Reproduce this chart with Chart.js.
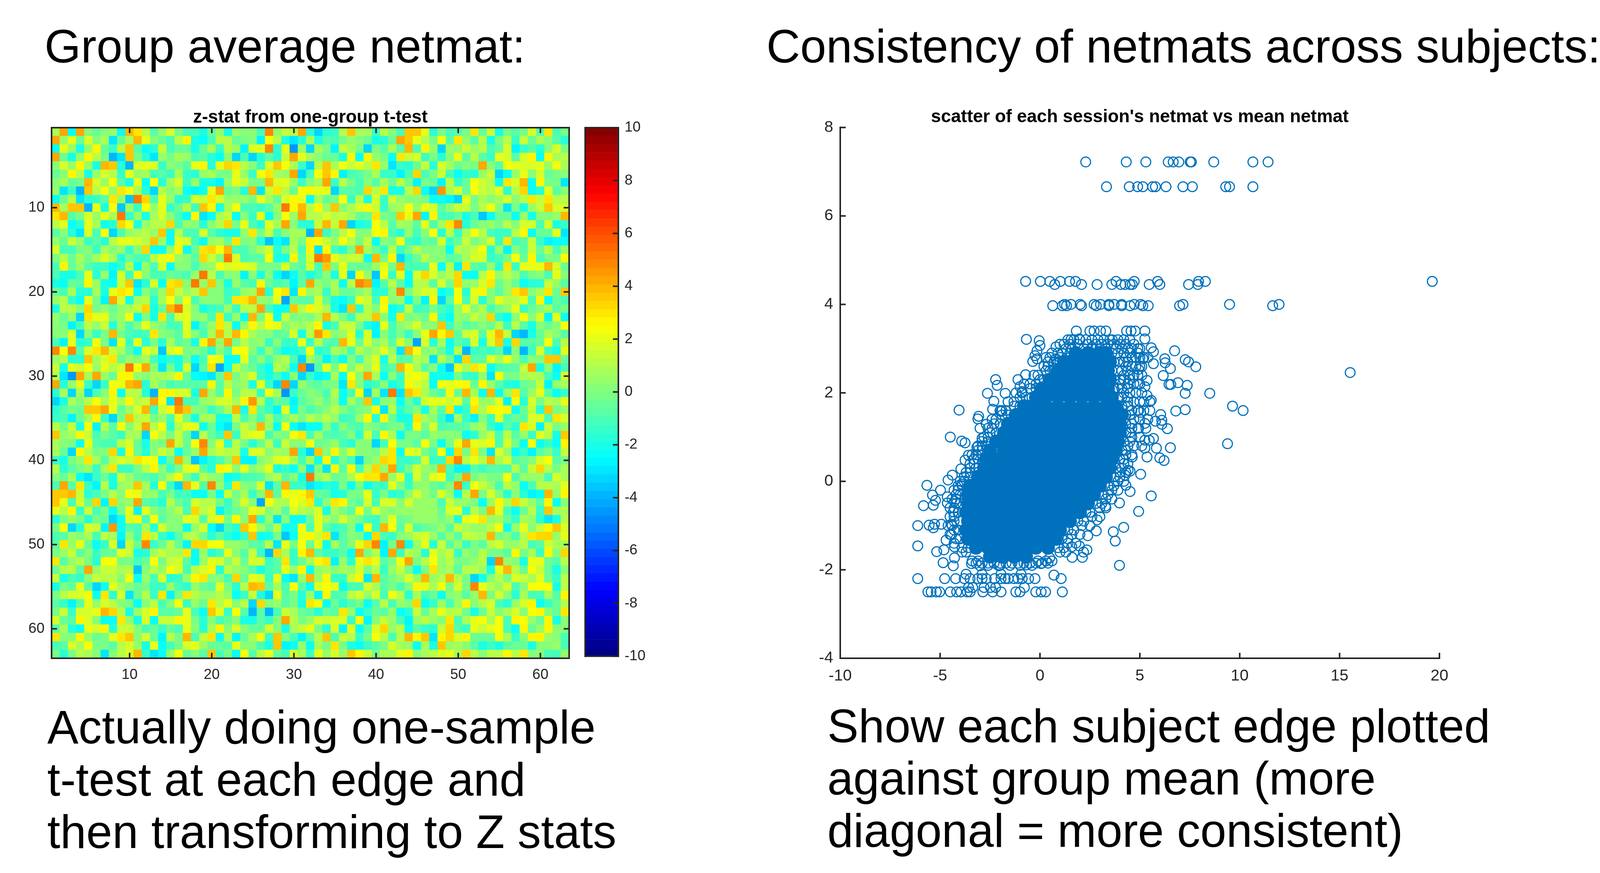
<!DOCTYPE html>
<html>
<head>
<meta charset="utf-8">
<script src="https://cdn.jsdelivr.net/npm/chart.js@4"></script>
<style>
html, body { margin: 0; background: #fff; }
body { position: relative; width: 4108px; height: 2236px; overflow: hidden; font-family: "Liberation Sans", sans-serif; color: #000; }
canvas { position: absolute; }
.big { position: absolute; font-size: 119.7px; line-height: 134px; white-space: pre; }
</style>
</head>
<body>
<div class="big" style="left:114px;top:52px">Group average netmat:</div>
<div class="big" style="left:1962px;top:52px">Consistency of netmats across subjects:</div>
<canvas id="heat"></canvas>
<canvas id="bar"></canvas>
<canvas id="scatter"></canvas>
<div class="big" style="left:121px;top:1796px">Actually doing one-sample
t-test at each edge and
then transforming to Z stats</div>
<div class="big" style="left:2118px;top:1793px">Show each subject edge plotted
against group mean (more
diagonal = more consistent)</div>
<script>
// netmat is symmetric, so only the upper triangle is kept (rows start on the diagonal)
const upperA = [ // rows 1-24, up to col 24
[.7,4.2,-2.5,4.2,.3,-.5,.2,.6,-2.5,3.8,3,1,-.8,.5,1.6,-.2,-1.2,-1.2,-2,-.5,.5,-2,.4,.2],
[.5,2,-.5,1.6,.1,.7,-3,-.5,.8,3.8,1.9,.2,-.5,-1,1.2,2.5,-2.1,-2.2,-1.2,1.2,1,-.5,-.1],
[.5,-2,.4,2.5,-.6,-1.5,1.2,3.6,-.8,-2.5,-1.8,1.3,-1,-.5,-.5,-2.1,-.5,.7,-1.5,1.2,.5,-2.7],
[.5,2.5,1,-.2,-4,-3,3.6,-.1,-1.7,-3,.5,-.3,.9,.6,-1,-.8,-1.7,-2.5,.2,-3.3,-1.1],
[.4,-2.1,3.9,3.7,-1.8,-4,1.7,2.1,1.6,-1.4,0,-.2,-.7,1.9,2.5,-1.8,1.9,3.3,3,1],
[.4,1.7,1.1,-1.3,2.1,.6,.9,-1,-.7,-1.4,.7,-1.4,-1.7,.4,.7,-.1,-.1,1.9,.5],
[.5,2.2,-.7,-2,1.9,-2.2,2.2,-1.7,.7,1.7,-1.5,.5,-2.1,-2.1,-2.6,.5,2.1,1.4],
[.5,3.1,2.2,.7,-1.8,-3.2,1,.1,.9,-2.5,-2.8,-2.2,2,4.1,-.5,-.2,-1.8],
[.5,-3.7,5,3.4,-1,2.1,.5,-1.6,-1.4,1.7,1.4,3,1.8,.5,.5,.5],
[.4,-1.3,2.2,.6,1.9,-1.4,-.5,1.2,-1.3,3.5,2.5,-2.1,.9,2.2,-1.2],
[.5,-2.1,.9,1.6,.2,-1.1,-2.2,2.5,-3,-2.5,.8,1.4,-2.2,.2],
[.4,1.1,1.1,3.2,-1.2,.4,.1,-1.7,.2,1,3.4,-.3,2],
[.4,3.5,-2.3,1,-1.2,-1,1.7,-.8,-1.7,-2,-2,.6],
[.5,-2.5,1.9,1.8,-1.2,-2.5,.5,.8,-.5,3,-.1],
[.4,2.5,-2.2,-.4,3,3.2,2.2,4,-1.2,-1],
[.5,.2,-.9,3.4,1.4,.2,5,1.7,-1.1],
[.3,-1.1,.1,.6,2.2,1.6,2.1,1.9],
[.4,5,1.1,-1,.1,.1,-2.7],
[.4,3.5,.2,-2,.6,-.9],
[.3,.3,-1.4,-1,.5],
[.3,-1.2,3,3],
[.6,-1.5,1.2],
[.5,-2.2],
[.5],
];
const upperB = [ // rows 1-24, cols 25-48
[.1,-1.2,4.8,.5,1.3,1.1,4.2,-1.8,-3.2,-1.8,-1.4,1,3.6,.8,.9,-1.4,1.2,.1,-1,3.7,3.7,2.1,-1.7,-.1],
[0,-2.7,2.2,1.2,-2,-3,-1.6,.8,-2,-.8,-1,-.1,.4,.2,-.6,-2,-1.8,-.4,4.1,3.7,1.9,1,-.1,2.2],
[1.6,1.9,4.8,-1.7,2,-4.5,.4,-3.2,.9,-.3,-2.6,1.3,.8,-.1,-3.3,-.1,-.9,.9,-.7,3.9,-1.1,2.5,.5,-3.3],
[-3.2,-1.7,-.9,-1.7,1.5,4.3,1.9,.9,.1,-.4,-.4,-2,2.5,-2.5,2.5,.5,-.3,-2.5,3,1.4,1.8,-1.5,-.1,-1.8],
[0,-1.5,1.7,3.6,2.2,.9,-1.4,-3.3,1.2,3.6,.7,2.2,1.3,1.9,1.1,2.9,.6,-2.9,-1.3,-1.7,-.4,1.5,-1.7,1.8],
[-1.4,2.2,3,.9,.4,4.1,-3.3,-1,2.2,3.5,2.5,-2.7,-1.2,-.7,-.1,.7,-1.4,-1.4,-2.7,-1,3.2,-1,-.2,1.5],
[-.2,-.2,3.9,1.8,2,.4,-1.5,.2,.9,4.1,-1.5,1,-.2,-1.1,.2,-.7,.8,-.4,1.2,-.1,-2.7,-.2,-.4,-2.6],
[3.8,-2.9,1.4,3,1.1,-.4,2.2,2.6,1.9,1.9,-3.3,-.8,-.7,-1,3.2,1,3,-2.1,-2.1,1,3.2,-2.5,-3.4,4.4],
[-.2,2.1,.9,-.4,1.7,2.5,1.9,-2.5,.7,-.5,-.1,2.2,-1.3,1.1,-2.1,1.6,-1.3,1.5,.5,.2,.2,-.1,-2.5,-2.5],
[-1,-1.5,-.7,.5,5,2.8,3.8,1.1,2.5,.5,3.5,.2,.8,1.7,2.5,1.3,-1.4,.4,.9,2.2,.4,2.1,1.6,-.9],
[-1.5,2.1,-2.5,0,2.2,.4,4.2,1.1,1.1,1.6,1.1,1.5,.8,-.5,-.6,2.9,-.3,-.5,3.6,2.1,4.3,-2.8,2.5,-1.2],
[-1.1,-1.6,1.9,.7,4.2,0,-1.8,-1.8,1.3,3.8,1.3,4.3,-3.3,-2.1,-1.6,2.2,1,-.9,.7,.5,-.8,1.9,-1,.8],
[3.1,-.2,1.5,-1.1,.1,.9,.9,-4,4.1,-1.5,-.1,1,2.2,.2,0,2.2,2.5,-1.2,-1.6,.4,-1.2,.1,2.2,-1.8],
[.3,-1.8,-3.7,-2.2,-2.9,.8,-.3,2.5,2.2,1.3,.4,2.2,1.1,-.1,1.4,-2.5,0,-.2,2.2,-1.2,-1.8,-.5,-.7,1.7],
[-.1,.7,1.7,-1.7,-.2,1.2,-1.2,2.5,-3,2.5,-1.2,-1.6,-.2,4.2,.7,-.5,-1.4,1.2,-1.5,-.3,1,.3,.3,.1],
[-.8,-.8,2.2,-1.9,-1.9,2.5,-.8,1.6,5,4.6,1.9,1.1,1.3,1.3,-2.5,4,-.3,2.5,-3.3,-1.4,-.4,1,.2,.1],
[1.6,-.1,-.1,-.1,1.7,-.6,-.8,1.6,-1.2,3.7,-.1,2.1,-.6,-.6,-.6,.5,1.9,-.2,3.8,-1,-1,-1.2,2,-2.5],
[.1,-2.1,0,-2.5,-3.2,-2.5,-.8,-2.1,-1.2,.3,-2.1,1.9,-3.2,2.2,.6,-3.5,2.2,-1.3,1.9,-2.3,1.7,3.4,1.8,.6],
[-1.1,2.5,-.4,-1.2,-.7,-2.8,-.8,4.2,.5,-.3,.9,-2.5,1.2,4.8,4.3,-2.7,-.8,1.2,-.9,-2.3,1.2,1.2,-.7,1.6],
[.9,4.3,-1.7,2.2,2.9,-2.9,2.5,.4,.8,-1.5,.8,-.6,-.6,.1,.7,-1.8,-1.7,.4,4.7,-.3,1.2,1.6,1.6,-2.4],
[3.9,.6,.1,1.9,-4.2,-.6,-.7,-.8,1.8,-.6,-1.9,-2.3,-1.4,1.9,1.4,-1.2,2.5,.1,.4,-2.2,-.2,-2.6,2.5,-3.3],
[1.2,4.1,-1,-2.2,-2.5,3.6,1.2,2.5,1.7,.8,-1.9,-3.1,3.6,-1.8,1,.1,2.2,-2.2,-1.6,1.3,-1.5,-1.2,-.2,-1.2],
[4,-.2,2.2,-2.2,1.3,-.3,.3,-.1,.8,3.8,1.2,-.1,-1.5,1,1,3.7,.1,-2,2.9,-.2,.1,-.4,2.5,-1.7],
[2.5,1,2.2,1.9,.2,.9,.6,1.1,2.6,-2.1,-1.2,1.5,1.3,-.2,-2.1,-2.7,1.9,-1.2,.1,.9,1.6,.2,.2,3.6],
];
const upperC = [ // rows 1-24, cols 49-63
[-1,-.7,-.1,3,-.6,1.3,-2.1,-.1,-.7,-.1,1.7,-.7,3.1,-1.1,-.1],
[-.8,3,.5,-.9,1,-2.1,-.1,1,-1.3,1.5,-.4,.8,0,-.8,-1.6],
[.4,.6,1.4,.6,1,-1.2,-.5,1.7,-2.8,-1.4,-.9,-1.7,.1,1.7,-.1],
[.2,2,-.7,1.2,-.8,-1.3,2,1.8,-.7,1.7,2.5,-2.5,2.5,.7,1],
[.9,-.4,.3,-.1,4.2,.2,-.8,2.3,2,1.8,1.7,2.1,.6,2.3,.7],
[-1.1,-2.5,-1.5,-1.7,.6,1.5,-3.3,-2.2,.6,2,.2,1.6,-.5,-.1,0],
[1.2,-1.3,-.4,2.2,1.3,1.2,-2.5,3,1.7,3.8,-2.5,2.5,-.1,-.1,-2.9],
[.8,1.8,-.6,2.2,1.4,1.2,2,-1.7,1,3.3,-2.5,-1.8,2,-.7,.1],
[-2.7,-3.4,2.1,-.1,.7,.3,.7,1.7,.1,1.1,2.9,1.4,3.1,1.1,1.2],
[.5,1.4,1.4,-.1,1.1,2.2,.2,-2.9,-.2,-2.1,.4,1.5,3.6,1.7,1.6],
[-1.1,-.5,-1.9,-1,-3.7,-2.2,-.4,-.4,-2.3,.6,-2.1,0,0,.4,3.8],
[2.9,4.7,-1.6,-.5,.3,.5,-.1,1,.1,1.7,1.7,-1.1,1.7,-2.1,-1.5],
[1,-1.4,.8,2.2,1,-1.2,-1.5,-1.5,1.1,2.5,-2.5,-.4,-.4,1.9,-3],
[-1.5,-.5,1.3,-.2,.5,1.7,-1.5,3,-1.2,-.9,1.3,-1.4,-2.8,-2.2,-2.2],
[-2.5,1,.9,1.5,2.2,-1.6,.4,-2.6,.1,-.8,1.3,-.5,1,-1.2,.4],
[-.8,-.6,.8,1.7,1.8,-1.3,-1.2,-.1,2.2,-.4,2.5,-1,-.2,-.1,2.2],
[1,-2.8,3,-.7,-1,.5,-1.8,3,-1.4,1.9,2.1,1.9,3.9,1.6,-.4],
[1,3.2,-2.5,-2.3,1,2.5,.4,1.1,.6,-1.2,-.1,0,-1,2.1,.3],
[-.2,3.2,.6,.4,1.8,2.9,-.6,.6,-.4,-2.5,-1.8,-1.6,1.3,.4,-.8],
[-1.8,2.3,-1.7,2,2.5,.3,-.7,.5,3,3.6,.2,.7,3,-.6,3.7],
[-.9,2.3,-1.2,1.6,-1.8,.1,2,1.2,1.2,2,-1.1,2.5,-2.5,-.5,-1.2],
[-1.7,.6,2.1,.1,1.1,-1,-.2,.6,2.1,-1.4,-.6,.3,.7,-.7,-.2],
[-2.5,.6,.2,1.4,.4,3.2,-1.8,-2.4,.2,2.2,0,1.7,-2.8,2.1,-2.2],
[-1.4,.2,-.9,-.5,.2,-.5,1,-1.4,1,-.9,-1.9,0,-.4,.3,2.2],
];
const upperD = [ // rows 25-48, up to col 48
[.7,.2,.2,-.8,-.4,1.8,-2.1,1,4.6,3,.2,.5,1.9,-1.7,1.8,-2.7,.2,-1.2,-.3,-1.5,.1,1.9,4.2,2.5],
[.4,-1.5,.2,-1.5,-1.5,2,-1.3,1,-.9,-1.1,3.9,2.1,-.5,1.7,.1,.8,-.8,1.7,.1,-4.2,1.8,-1.7,.8],
[.6,-1,-2.5,-2.1,-1.4,2.2,-1.8,-1.5,.7,.5,-1,1,.2,.7,2,.6,-3,3.9,2.2,.3,.5,-.5],
[.6,1.1,-1.1,-3.3,.9,-.5,-2.7,-1.2,-2.2,.2,-1.3,.7,1.6,-2.1,1,-.7,-.9,1.2,.8,-3,1.1],
[.4,-2.5,4.9,-4.6,-.9,2,-.1,2.2,-.1,1.3,.5,2.1,-1.4,-.9,4,2.5,.8,-.8,.2,-2.5],
[.3,-3.2,-1.4,-2.7,-2.2,.8,-2.5,2.2,.2,4.2,.8,-2.2,.1,-1.5,1.9,2.2,1.7,-2.2,-2],
[.5,-.5,-.8,-.2,-.2,-3,2.9,0,-1.7,-1.2,0,-2.1,-1.5,2.5,1.7,1,-2.5,2.2],
[.2,-.2,-1.2,1,-2.2,-1.2,2.2,-3.2,.9,-3.1,5,-3.1,3.6,2.9,.8,-.6,-1.2],
[.5,-.6,.4,-2.3,.7,-.6,3.6,-2.1,.2,.6,-2.3,-.4,-1.6,1.7,2,2],
[.3,1.2,0,-.9,-.1,.3,2.5,-3.1,1.2,-1.8,-.9,0,-2.1,.8,-.8],
[.4,-1.3,-1,.4,2.5,-1.8,2.5,-.5,-1.9,-2,3,.7,.2,-1.3],
[.3,-.9,-1.1,.3,-.2,-.8,-.2,-.2,-1.8,2.5,-.2,1.6,-1],
[.2,-1.6,1.7,-1.1,2.5,.7,-2.5,-.2,-.1,-.8,.6,.3],
[.2,.1,-3.2,-1.1,2.2,-.2,-.2,-.9,2.2,-.2,-2.5],
[.3,-.2,1,2.9,-2.5,1.9,1.6,-.2,-1.2,2.2],
[.5,3.2,3,-1.5,-1.5,-1,1.6,-1.5,-1.5],
[.6,4.2,-1.4,-.2,1.7,.5,.2,3.8],
[.5,1.9,-1.7,1.7,.2,2,2.3],
[.3,-1.3,.2,.6,-.6,-.8],
[.2,1.8,.5,-.3,1.6],
[.5,.6,.6,-1],
[.5,.4,-.6],
[.4,-.2],
[.4],
];
const upperE = [ // rows 25-48, cols 49-63
[3.6,-.9,1.3,1.7,-.7,1.9,3.8,1.5,-3.2,-3.9,-2,-.4,.7,.1,-.8],
[-2.5,-.9,-1.5,1.6,-2.1,1.7,3.6,-2,3.2,-.8,-.8,-.5,2.2,-1.2,1.1],
[-2,1.1,-3.9,-1.4,-1,-1.5,-.8,-3.4,.1,-3.9,-1.5,1.8,-1.5,-2,2],
[-.3,-3.1,3.3,-.8,-.9,1.9,.9,2,.5,-1.2,.2,.1,3.7,3.7,-.4],
[-3.7,2,.7,3,2.1,-2.5,-1.2,-.8,-.9,1.3,4.2,-2.1,.2,-2.8,-1.1],
[-2.5,-.2,-1.5,-1.4,.4,-3.1,2.2,-.1,-.2,.7,1.1,.8,-1.1,-2.2,1.6],
[1.9,2.3,2.5,-.5,2.5,.6,-.8,-1.8,-2.1,-.4,-.2,1.5,-2.8,.6,.7],
[2.5,-.5,3.9,.7,-2.3,3.8,-2.2,.5,3,-.7,.5,2,-.8,-2.2,-1.3],
[1.3,2.1,-.8,2.5,.6,.6,1.9,-2.7,2.2,-1.7,1.6,-.3,1.1,.7,2],
[3,-2.5,-1.3,2.9,.9,2.5,2.2,2.5,-2.2,-.5,1.4,-1.8,3.6,-.1,.4],
[-3,.8,-1.3,-2.8,.2,-1.5,1.9,-1,-.6,-.7,1.7,1.6,-1,2.9,1.7],
[-.9,-.7,-.8,.5,.8,-1.5,-2.5,-.7,-1.6,3,1.7,-2.8,1.4,-.2,.4],
[.2,0,-2.5,-1.6,.5,1.3,-1.2,1,-.9,.4,-1.5,1.9,1,-1.9,3.5],
[-.2,2,4.2,2.1,1.7,2.5,-1.2,1.8,-.1,-2.5,2.2,-2.4,-1.3,-2.2,2.5],
[-2.4,3.2,-.1,3,-.2,-3.1,1.7,.4,-2.5,-1.5,-2.8,-.7,-.2,-1.5,1.5],
[3.2,4.8,1,2,1.2,3.8,.7,1.8,-.8,-.5,.2,1.8,2.2,-.8,-.2],
[-1.2,-2.6,-2.6,-.9,-1.3,-.8,-.8,-1.1,1,-.8,1.3,3.4,1.2,-.2,.8],
[-1.4,-.1,4.2,-.1,.6,-.1,-.3,2.3,-1.2,.5,.6,.4,-1.1,1.7,.9],
[.3,4.8,-1.3,2.2,1.5,.4,-1,1.2,.4,-2.5,-1.1,1,1.1,.8,2.1],
[.6,-2.2,1.1,4.1,-.2,1.7,0,-1.7,.3,-1.7,-2.7,-2.5,3.8,.6,2.5],
[1.5,.4,.4,-.3,-2.2,.4,2.5,.9,3.2,1.4,.4,-.7,2.5,-2.2,.2],
[1.8,2.1,-1.8,1,-.2,4,2.1,-1.2,-2.5,-.6,1,-1.3,3.7,.9,.8],
[.5,-1.6,2.1,2.4,3,.5,.8,-.6,-1.4,.7,.5,-1.8,-3,-1.9,1.2],
[-.8,1.3,.7,.6,.4,1,2.4,-2.5,.4,1.9,0,1.3,2.5,3.6,1.7],
];
const upperF = [ // rows 49-63, up to col 63
[.5,-.7,1.3,1.2,.7,4,-.1,0,-1.1,1,3,3.4,3.4,.5,2],
[.5,-1.3,-.1,-.9,1.2,1.7,.4,.4,1.2,-1.2,-.8,1.7,.9,.9],
[.6,-.1,1,-.1,-.1,-.8,2.5,-.2,.7,-1.4,2.5,.1,3.2],
[.4,1,-3.4,4.8,.5,.1,-2.1,1.9,1.9,-.4,-.8,1.1],
[.4,-2.1,2,4,1.2,-.5,2.2,1.5,-.5,-1.9,.2],
[.3,1,-.2,1.8,1.5,.7,2,-.5,-1.5,1.1],
[.5,1.7,-1,.1,2.2,2.2,2.2,-2.1,1.1],
[.1,-1.8,.9,-1.2,-1.2,.7,-.9,2.5],
[.5,1.7,2.5,-2.5,-1.5,-.5,1.2],
[.2,2.2,2.5,.1,-.6,3.1],
[.4,-.6,2.5,-2.1,0],
[.4,2.5,0,0],
[.6,.2,-1.1],
[.5,-1],
[.5],
];

const heatTicks = [10, 20, 30, 40, 50, 60];
const barTicks = [-10, -8, -6, -4, -2, 0, 2, 4, 6, 8, 10];
const scatterXTicks = [-10, -5, 0, 5, 10, 15, 20];
const scatterYTicks = [-4, -2, 0, 2, 4, 6, 8];

// rows of rings at quantised y levels: [y, x values]
const ringRows = [
[7.22,[2.29,4.32,5.3,6.42,6.67,6.95,7.52,7.58,8.7,10.66,11.42]],
[6.66,[3.33,4.47,4.89,5.15,5.64,5.78,6.31,7.16,7.63,9.3,9.49,10.66]],
[4.52,[-.72,.02,.49,1.02,1.48,1.78,3.81,4.72,5.89,7.94,8.28,19.64]],
[4.45,[.74,2.08,2.86,3.6,4.05,4.26,4.51,4.62,5.47,6,7.44,7.9]],
[4,[1.23,1.55,2.01,2.71,3.03,3.45,3.71,4.09,4.72,5.04,7.16,9.49,11.97]],
[3.97,[.64,1.12,1.33,2.08,2.82,3.45,4.09,4.51,5.15,5.42,6.99,11.65]],
[3.4,[1.82,2.5,2.71,3.03,3.3,4.34,4.56,4.77,5.25]],
[3.2,[1.4,1.7,2,2.3,2.6,2.9,3.2,3.5,3.9,4.2,4.5]],
[3.1,[1,1.2,1.5,1.9,2.4,2.8,3.1,3.4,3.7,4,4.3,4.7]],
[3,[1.3,1.6,2.2,2.6,3,3.3,3.8,4.1,4.4,4.6,4.9,5]],
[2.9,[.6,.9,1.1,1.5,1.7,1.9,3.6,3.9,4.2,4.5,4.9]],
[2.8,[.3,.5,1,4.3,4.6,4.8,5,5.2,5.4]],
[2.7,[.4,.7,.9,1,3.7,4,4.2,4.4]],
[2.6,[.2,.4,4.3,4.6,4.8,5,5.1]],
[2.5,[.3,.5,.7,3.6,3.9,4.1,4.4]],
[2.4,[-.1,-.3,4.2,4.5,4.7,4.9,5.1]],
[2.3,[0,.2,.4,3.7,4,4.2,4.5]],
[2.2,[-.5,-.8,-.2,4,4.4,4.7,4.9,5]],
[2.1,[-.5,-.2,0,3.7,3.9,4.1,4.4]],
[2,[-1.2,-.9,4.2,4.5,4.8,5.1]],
[1.9,[-1,-.7,-.4,3.9,4.1,4.4]],
[1.8,[-1.6,-1.3,4.4,4.7,5,5.2,5.5]],
[1.7,[-1.3,-1,-.7,4.1,4.4]],
[1.6,[-2,-1.7,-1.9,4.6,4.9,5.2,5.5]],
[1.5,[-1.6,-1.9,-1.3,4.3,4.5]],
[1.4,[-2.2,-2.4,4.7,5,5.4]],
[1.3,[-2,-2.3,4.3,4.6]],
[1.2,[-2.4,-2.6,4.6,4.9,5.3]],
[1.1,[-2.2,-2.5,4.3,4.5]],
[1,[-2.8,-2.6,4.6,5]],
[.9,[-2.6,-2.9,4.2,4.5]],
[.8,[-3.1,-2.9,4.4,4.7,5.1]],
[.7,[-2.9,-3.1,4.1,4.3]],
[.6,[-3.4,-3.2,4.3,4.6]],
[.5,[-3.1,-3.3,4,4.2]],
[.4,[-3.5,-3.3,4.2,4.4]],
[.3,[-3.2,-3.5,3.8,4.1]],
[.2,[-3.7,-3.5,4,4.3]],
[.1,[-3.5,-3.8,3.7,4]],
[0,[-4,-3.8,3.9,4.2]],
[-.1,[-3.9,-4.1,3.4,3.7]],
[-.2,[-4.3,-4.1,3.6,3.9]],
[-.3,[-4,-4.2,3.1,3.4]],
[-.4,[-4.4,-4.2,3.3,3.6]],
[-.5,[-4,-4.2,2.8,3.1]],
[-.6,[-4.5,-4.3,3,3.3]],
[-.7,[-4.1,2.3,2.5]],
[-.8,[-4.5,-4.3,2.6,3]],
[-.9,[-4,-4.3,1.9,2.2]],
[-1,[-4.6,-4.4,2.1,2.5]],
[-1.1,[-4.1,-4.3,1.4,1.7]],
[-1.2,[-4.5,1.6,2]],
[-1.3,[-4,-4.2,1.1,1.4]],
[-1.4,[-4.3,1.4,1.8]],
[-1.5,[-3.6,-3.9,.9,1.2]],
[-1.6,[-3.9,-3.7,1,1.3]],
[-1.8,[-3.4,-3.1,-.1,.3,.6]],
[-1.85,[-3.2,-2.9,-2.6,-2.3,-2,-1.7,-1.4,-1.1,-.8,-.5,-.2,.1,.4]],
[-1.9,[-2.6,-2,-1.5,-1,-.4]],
[-2.1,[-3.7,-2.9,-1.95,-.95]],
[-2.2,[-6.12,-4.77,-4.22,-3.79,-3.5,-3.11,-2.9,-2.69,-2.27,-1.95,-1.74,-1.59,-1.31,-1.1,-.89,-.57,-.25,1.06]],
[-2.4,[-3.58,-3.37,-2.8,-2.48,-2.22,-.78]],
[-2.5,[-5.61,-5.45,-5.19,-5.02,-4.49,-4.17,-3.96,-3.64,-3.5,-2.86,-2.37,-1.95,-1.21,-1,-.21,.06,.28,1.12]],
];
// single outlying rings
const ringX = [-.68,-.04,0,-.15,.8,1.55,1.97,3.62,5.25,5.57,5.68,6.74,6.25,7.27,7.44,7.8,6.27,6.53,5.68,6.17,6.46,6.55,6.91,7.37,7.27,8.5,15.53,-.25,-.36,-.15,-2.22,-2.14,-1.1,-.72,-2.63,-1.74,-2.31,-1,-.89,.8,5.36,5.36,5.25,5.15,5.57,4.94,
-4.05,-3.07,-3.11,-3,-2.69,-2.37,-1.95,-4.49,-3.92,-3.75,-2.9,-3.16,-3.58,-3.75,-3.33,-3.96,-4.39,-4.6,-5.66,-3.92,-4.98,-5.38,-4.64,-5.23,-5.83,-5.34,-4.64,-4.28,-4.34,-6.12,-5.55,-5.28,-5.34,-4.94,-4.43,-6.12,-5.17,-4.81,-4.7,-4.43,-4.28,-4.85,-4.34,-4.28,
9.64,10.17,6.8,7.27,6.04,6.1,6.1,6.38,5.78,5.25,4.94,4.94,5.04,5.68,5.25,5.47,6.53,5.83,5.25,9.39,5.36,6,6.21,4.62,4.51,5.04,4.41,4.26,4.3,4.51,5.57,3.98,4.94,3.28,2.86,4.19,3.67,3.77,2.82,2.39,1.97,1.59,2.35,2.18,1.61,2.12,3.98,.49,.06,-.68,-2.06,-3.43,-3,.7];
const ringY = [3.21,3.18,3.07,2.95,3.04,3.2,3.22,3.2,3.22,3.02,2.93,2.95,2.77,2.75,2.7,2.59,2.68,2.55,2.66,2.39,2.19,2.19,2.23,2.17,1.99,1.99,2.46,2.84,2.71,2.77,2.3,2.17,2.3,2.41,1.99,1.99,1.81,2.14,2.03,2.77,2.28,1.94,2.14,2.77,1.83,2.53,
1.61,1.47,1.41,1.2,1.29,1.63,1.58,1,.91,.87,.97,.77,.59,.48,.5,.28,.14,.03,-.09,-.06,-.2,-.31,-.35,-.43,-.55,-.54,-.49,-.45,-.69,-1,-.99,-.97,-1.05,-.97,-.97,-1.46,-1.59,-1.55,-1.33,-1.21,-1.48,-1.84,-1.91,-1.73,
1.7,1.6,1.59,1.62,1.51,1.38,1.29,1.19,1.36,1.31,1.2,1.6,1.56,.97,.93,.93,.76,.75,.75,.85,.55,.53,.47,.55,.23,.16,.25,.14,-.09,-.23,-.33,-.49,-.68,-.56,-.87,-1.04,-1.14,-1.35,-1.12,-1.23,-1.46,-1.48,-1.55,-1.6,-1.72,-1.72,-1.9,-1.73,-1.86,-1.89,-1.91,-1.86,-1.91,-2.12];
// the overlapped mass in the middle of the cloud, read as rows of solid marks
const coreRows = [
[-1.7,[-2.5,-1.9,-1.3,-.7]],
[-1.5,[-3.2,-2.6,-2,-1.4,-.8,-.2,.4]],
[-1.3,[-3.6,-3,-2.4,-1.8,-1.2,-.6,0,.6,.8]],
[-1.1,[-3.7,-3.1,-2.5,-1.9,-1.3,-.7,-.1,.5,1]],
[-.9,[-3.6,-3,-2.4,-1.8,-1.2,-.6,0,.6,1.2,1.5]],
[-.7,[-3.7,-3.1,-2.5,-1.9,-1.3,-.7,-.1,.5,1.1,1.7,2]],
[-.5,[-3.6,-3,-2.4,-1.8,-1.2,-.6,0,.6,1.2,1.8,2.4]],
[-.3,[-3.6,-3.1,-2.5,-1.9,-1.3,-.7,-.1,.5,1.1,1.7,2.3,2.7]],
[-.1,[-3.5,-3,-2.4,-1.8,-1.2,-.6,0,.6,1.2,1.8,2.4,3]],
[.1,[-3.1,-2.5,-1.9,-1.3,-.7,-.1,.5,1.1,1.7,2.3,2.9,3.3]],
[.3,[-2.8,-2.4,-1.8,-1.2,-.6,0,.6,1.2,1.8,2.4,3,3.5]],
[.5,[-2.7,-2.1,-1.5,-.9,-.3,.3,.9,1.5,2.1,2.7,3.3,3.6]],
[.7,[-2.5,-1.8,-1.2,-.6,0,.6,1.2,1.8,2.4,3,3.6,3.8]],
[.9,[-2.2,-1.7,-1.1,-.5,.1,.7,1.3,1.9,2.5,3.1,3.7,3.9]],
[1.1,[-1.8,-1.2,-.6,0,.6,1.2,1.8,2.4,3,3.6,4]],
[1.3,[-1.6,-1.1,-.5,.1,.7,1.3,1.9,2.5,3.1,3.7,4]],
[1.5,[-1.2,-.6,0,.6,1.2,1.8,2.4,3,3.6,4.1]],
[1.7,[-.8,-.3,.3,.9,1.5,2.1,2.7,3.3,3.8]],
[1.9,[-.2,.3,.9,1.5,2.1,2.7,3.3,3.6]],
[2,[.6,1.2,1.8,2.4,3]],
[2.1,[.1,.6,1.2,1.8,2.4,3,3.4]],
[2.3,[.5,.9,1.5,2.1,2.7,3.3,3.5]],
[2.5,[.9,1.2,1.8,2.4,3,3.4]],
[2.7,[1.2,1.5,2.1,2.7,3.3,3.5]],
[2.9,[1.8,2.4,3,3.3]],
];

const FONT = "Liberation Sans";
const INK = "#262626";
const BLUE = "#0072BD";

function clamp01(v) {
    return Math.max(0, Math.min(1, v));
}

// MATLAB jet(64), z from -10 to 10
function jet(z) {
    const level = Math.min(63, Math.floor(((z + 10) / 20) * 64));
    const t = (level + 0.5) / 64;
    const r = clamp01(Math.min(4 * t - 1.5, -4 * t + 4.5));
    const g = clamp01(Math.min(4 * t - 0.5, -4 * t + 3.5));
    const b = clamp01(Math.min(4 * t + 0.5, -4 * t + 2.5));
    return `rgb(${Math.round(r * 255)},${Math.round(g * 255)},${Math.round(b * 255)})`;
}

function buildMatrix() {
    const m = [];
    for (let r = 0; r < 63; r++) m.push(new Array(63).fill(0));
    const put = (r, c, v) => {
        m[r][c] = v;
        m[c][r] = v;
    };
    upperA.forEach((row, i) => row.forEach((v, k) => put(i, i + k, v)));
    upperB.forEach((row, i) => row.forEach((v, k) => put(i, 24 + k, v)));
    upperC.forEach((row, i) => row.forEach((v, k) => put(i, 48 + k, v)));
    upperD.forEach((row, i) => row.forEach((v, k) => put(24 + i, 24 + i + k, v)));
    upperE.forEach((row, i) => row.forEach((v, k) => put(24 + i, 48 + k, v)));
    upperF.forEach((row, i) => row.forEach((v, k) => put(48 + i, 48 + i + k, v)));
    return m;
}

function place(id, left, top, w, h) {
    const c = document.getElementById(id);
    c.width = w;
    c.height = h;
    c.style.left = left + "px";
    c.style.top = top + "px";
    c.style.width = w + "px";
    c.style.height = h + "px";
    return c;
}

// MATLAB style axes: frame lines and short inward ticks
const matlabAxes = {
    id: "matlabAxes",
    afterDraw(chart, args, opts) {
        const { ctx, chartArea: a, scales } = chart;
        const len = opts.tickLength;
        ctx.save();
        ctx.strokeStyle = INK;
        ctx.lineWidth = opts.lineWidth;
        ctx.lineCap = "square";
        const line = (x1, y1, x2, y2) => {
            ctx.beginPath();
            ctx.moveTo(x1, y1);
            ctx.lineTo(x2, y2);
            ctx.stroke();
        };
        line(a.left, a.top, a.left, a.bottom);
        line(a.left, a.bottom, a.right, a.bottom);
        if (opts.box) {
            line(a.right, a.top, a.right, a.bottom);
            line(a.left, a.top, a.right, a.top);
        }
        ctx.lineCap = "butt";
        if (opts.xTicks) {
            for (const t of scales.x.ticks) {
                const x = scales.x.getPixelForValue(t.value);
                line(x, a.bottom, x, a.bottom - len);
                if (opts.mirror) line(x, a.top, x, a.top + len);
            }
        }
        for (const t of scales.y.ticks) {
            const y = scales.y.getPixelForValue(t.value);
            if (opts.leftTicks) line(a.left, y, a.left + len, y);
            if (opts.rightTicks) line(a.right, y, a.right - len, y);
        }
        ctx.restore();
    },
};

const tickFont = { family: FONT, size: 37 };
const titleFont = { family: FONT, size: 46, weight: "bold", lineHeight: 1 };

function fixedSize(dim, value) {
    return (scale) => {
        scale[dim] = value;
    };
}

function tickList(list) {
    return (scale) => {
        scale.ticks = list.map((v) => ({ value: v }));
    };
}

// z-stat matrix
const matrix = buildMatrix();
const cells = [];
const cellColors = [];
matrix.forEach((row, r) => row.forEach((v, c) => {
    cells.push({ x: c + 1, y: r + 1 });
    cellColors.push(jet(v));
}));

new Chart(place("heat", 36, 260, 1525, 1486), {
    type: "scatter",
    data: {
        datasets: [{
            data: cells,
            pointStyle: "rect",
            pointRadius: 15.7,
            pointHoverRadius: 15.7,
            pointBorderWidth: 0,
            pointBackgroundColor: cellColors,
        }],
    },
    options: {
        responsive: false,
        animation: false,
        devicePixelRatio: 1,
        layout: { autoPadding: false, padding: { left: 0, right: 104, top: 18, bottom: 0 } },
        plugins: {
            legend: { display: false },
            tooltip: { enabled: false },
            title: { display: true, fullSize: false, text: "z-stat from one-group t-test", color: "#000", font: titleFont, padding: { top: 0, bottom: 3 } },
            matlabAxes: { box: true, xTicks: true, mirror: true, leftTicks: true, rightTicks: true, tickLength: 14, lineWidth: 4 },
        },
        scales: {
            x: {
                type: "linear", min: 0.5, max: 63.5,
                grid: { display: false }, border: { display: false },
                afterBuildTicks: tickList(heatTicks),
                afterFit: fixedSize("height", 60),
                ticks: { autoSkip: false, maxRotation: 0, color: INK, font: tickFont, padding: 13 },
            },
            y: {
                type: "linear", min: 0.5, max: 63.5, reverse: true,
                grid: { display: false }, border: { display: false },
                afterBuildTicks: tickList(heatTicks),
                afterFit: fixedSize("width", 96),
                ticks: { autoSkip: false, color: INK, font: tickFont, padding: 10 },
            },
        },
    },
    plugins: [matlabAxes],
});

// colour bar, 64 bands of the same map
const bandCount = 64;
const bands = [];
for (let i = 0; i < bandCount; i++) {
    const lo = -10 + (i * 20) / bandCount;
    const hi = -10 + ((i + 1) * 20) / bandCount;
    bands.push({ data: [[lo, hi]], backgroundColor: jet((lo + hi) / 2), borderWidth: 0, grouped: false, barPercentage: 1, categoryPercentage: 1 });
}

new Chart(place("bar", 1490, 290, 200, 1421), {
    type: "bar",
    data: { labels: ["z"], datasets: bands },
    options: {
        responsive: false,
        animation: false,
        devicePixelRatio: 1,
        layout: { autoPadding: false, padding: { left: 8, right: 17, top: 37, bottom: 25 } },
        plugins: {
            legend: { display: false },
            tooltip: { enabled: false },
            matlabAxes: { box: true, xTicks: false, rightTicks: true, tickLength: 14, lineWidth: 4 },
        },
        scales: {
            x: { display: false },
            y: {
                position: "right", type: "linear", min: -10, max: 10,
                grid: { display: false }, border: { display: false },
                afterBuildTicks: tickList(barTicks),
                afterFit: fixedSize("width", 90),
                ticks: { autoSkip: false, color: INK, font: tickFont, padding: 8 },
            },
        },
    },
    plugins: [matlabAxes],
});

// scatter
const ringPoints = [];
ringRows.forEach(([y, xs]) => xs.forEach((x) => ringPoints.push({ x, y })));
ringX.forEach((x, i) => ringPoints.push({ x, y: ringY[i] }));
const corePoints = [];
coreRows.forEach(([y, xs]) => xs.forEach((x) => corePoints.push({ x, y })));

new Chart(place("scatter", 2050, 260, 1760, 1486), {
    type: "scatter",
    data: {
        datasets: [
            { data: ringPoints, pointStyle: "circle", pointRadius: 12.5, pointBorderWidth: 3, pointBorderColor: BLUE, pointBackgroundColor: "rgba(0,0,0,0)" },
            { data: corePoints, pointStyle: "circle", pointRadius: 18, pointBorderWidth: 0, pointBackgroundColor: BLUE },
        ],
    },
    options: {
        responsive: false,
        animation: false,
        devicePixelRatio: 1,
        layout: { autoPadding: false, padding: { left: 0, right: 125, top: 17.5, bottom: 0 } },
        plugins: {
            legend: { display: false },
            tooltip: { enabled: false },
            title: { display: true, fullSize: false, text: "scatter of each session's netmat vs mean netmat", color: "#000", font: titleFont, padding: { top: 0, bottom: 3 } },
            matlabAxes: { box: false, xTicks: true, leftTicks: true, tickLength: 14, lineWidth: 4 },
        },
        scales: {
            x: {
                type: "linear", min: -10, max: 20,
                grid: { display: false }, border: { display: false },
                afterBuildTicks: tickList(scatterXTicks),
                afterFit: fixedSize("height", 60),
                ticks: { autoSkip: false, maxRotation: 0, color: INK, font: { family: FONT, size: 41 }, padding: 13 },
            },
            y: {
                type: "linear", min: -4, max: 8,
                grid: { display: false }, border: { display: false },
                afterBuildTicks: tickList(scatterYTicks),
                afterFit: fixedSize("width", 101),
                ticks: { autoSkip: false, color: INK, font: { family: FONT, size: 41 }, padding: 10 },
            },
        },
    },
    plugins: [matlabAxes],
});
</script>
</body>
</html>
